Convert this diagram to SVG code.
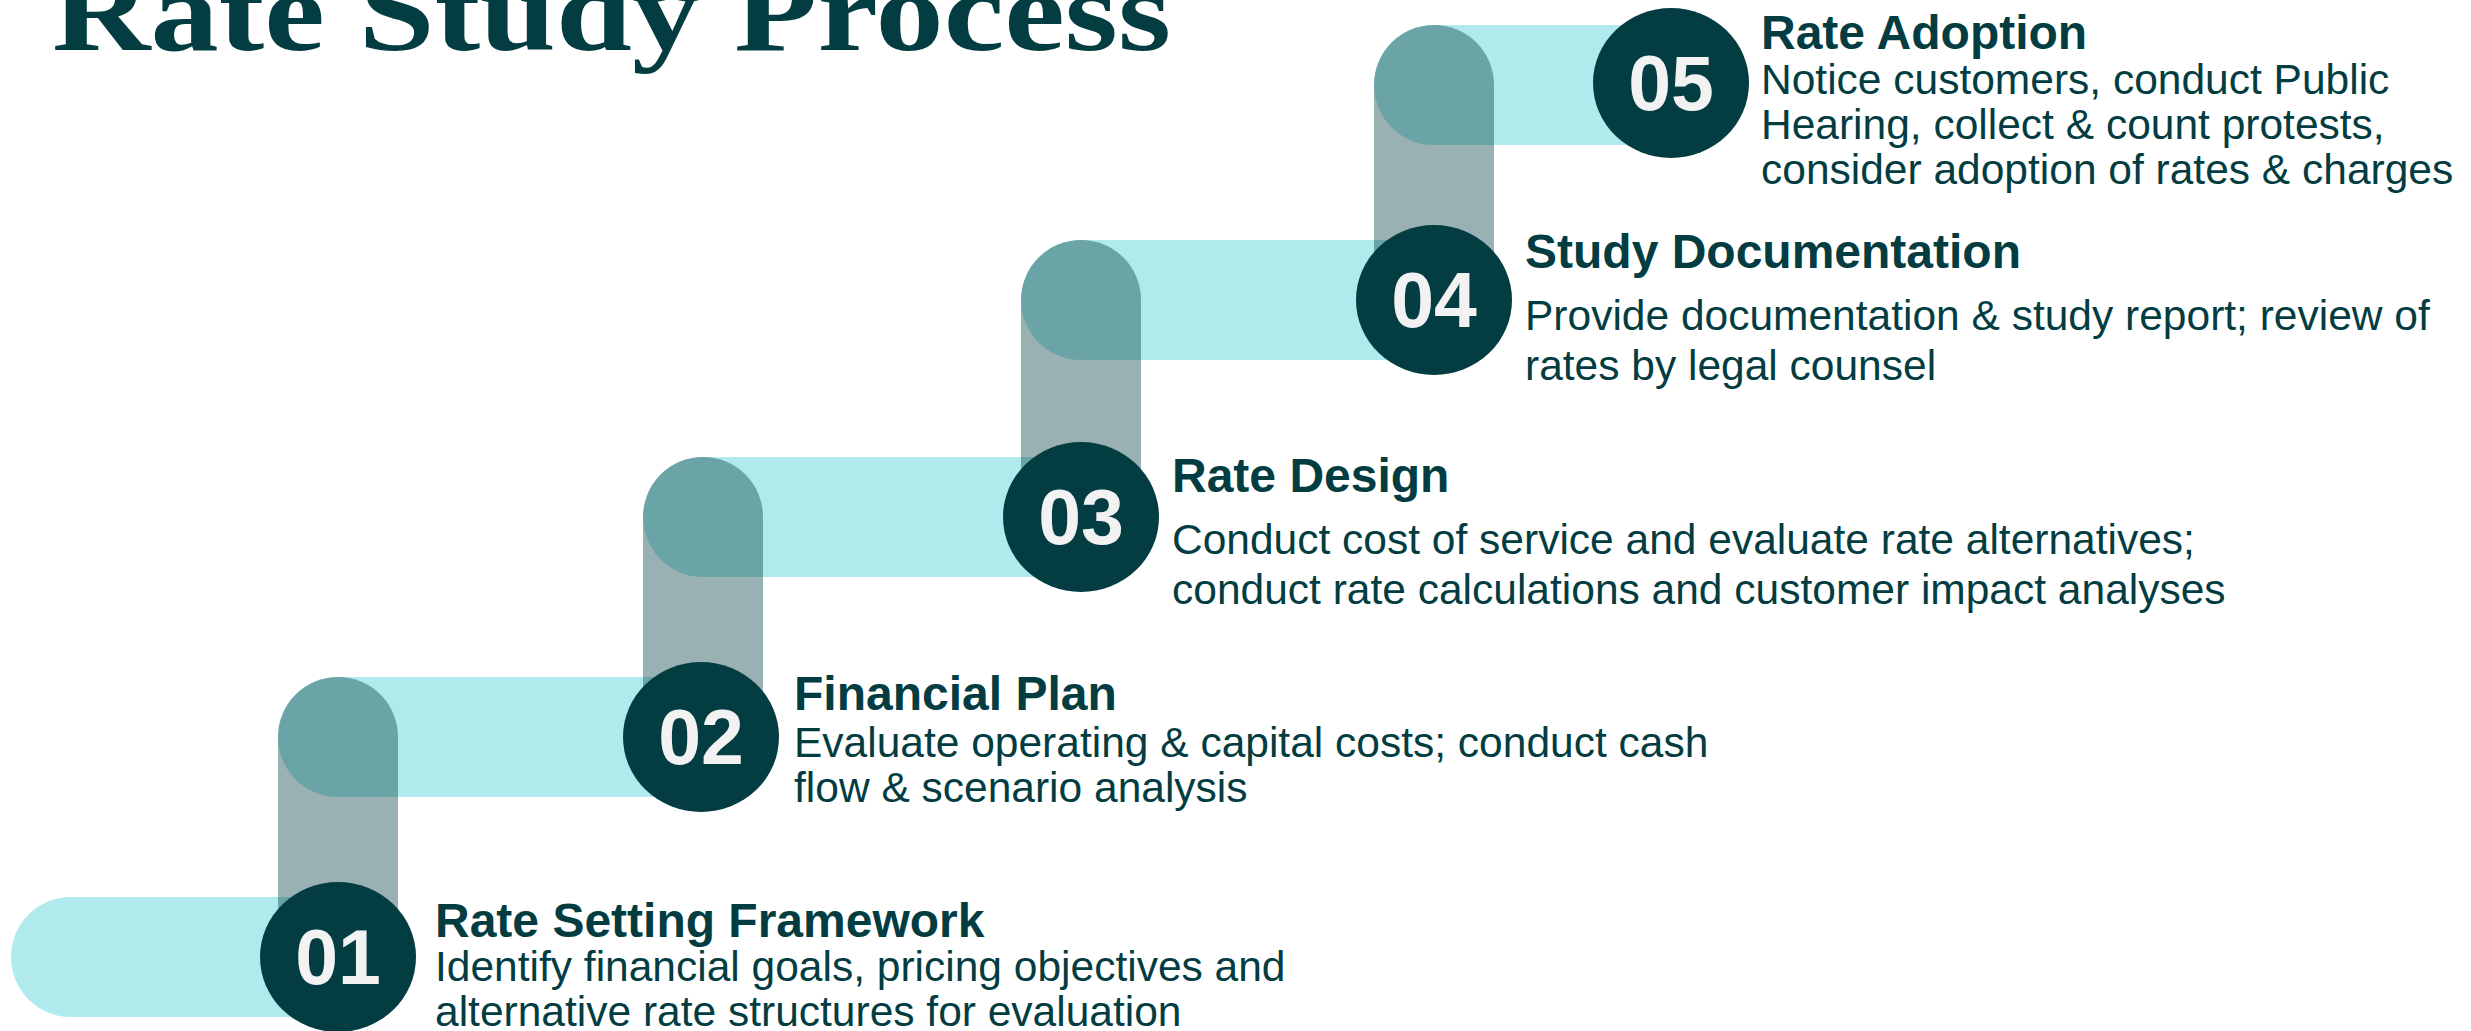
<svg xmlns="http://www.w3.org/2000/svg" width="2471" height="1031" viewBox="0 0 2471 1031">
<style>
.bar{fill:#b0eaec}
.link{fill:#033d42;fill-opacity:0.4}
.dot{fill:#033d42}
.num{font-family:"Liberation Sans",Arial,sans-serif;font-weight:bold;font-size:77px;fill:#f2f2f2;text-anchor:middle}
.head{font-family:"Liberation Sans",Arial,sans-serif;font-weight:bold;font-size:48px;fill:#033d42}
.body{font-family:"Liberation Sans",Arial,sans-serif;font-size:42.5px;fill:#033d42}
.title{font-family:"Liberation Serif","Times New Roman",serif;font-weight:bold;font-size:114px;fill:#033d42}
</style>
<rect width="2471" height="1031" fill="#ffffff"/>
<text class="title" x="52" y="50" textLength="1119" lengthAdjust="spacingAndGlyphs">Rate Study Process</text>
<g id="connectors">
  <path class="bar" d="M71,897 H338 V1017 H71 A60,60 0 0 1 71,897 Z"/>
  <path class="bar" d="M338,677 H701 V797 H338 A60,60 0 0 1 338,677 Z"/>
  <path class="bar" d="M703,457 H1081 V577 H703 A60,60 0 0 1 703,457 Z"/>
  <path class="bar" d="M1081,240 H1434 V360 H1081 A60,60 0 0 1 1081,240 Z"/>
  <path class="bar" d="M1434,25 H1671 V145 H1434 A60,60 0 0 1 1434,25 Z"/>
  <path class="link" d="M278,957 V737 A60,60 0 0 1 398,737 V957 Z"/>
  <path class="link" d="M643,737 V517 A60,60 0 0 1 763,517 V737 Z"/>
  <path class="link" d="M1021,517 V300 A60,60 0 0 1 1141,300 V517 Z"/>
  <path class="link" d="M1374,300 V85 A60,60 0 0 1 1494,85 V300 Z"/>
</g>
<g id="step01">
  <ellipse class="dot" cx="338" cy="957" rx="78" ry="75"/>
  <text class="num" x="338" y="984">01</text>
  <text class="head" x="435" y="937">Rate Setting Framework</text>
  <text class="body" x="435" y="981">Identify financial goals, pricing objectives and</text>
  <text class="body" x="435" y="1026">alternative rate structures for evaluation</text>
</g>
<g id="step02">
  <ellipse class="dot" cx="701" cy="737" rx="78" ry="75"/>
  <text class="num" x="701" y="764">02</text>
  <text class="head" x="794" y="710">Financial Plan</text>
  <text class="body" x="794" y="757">Evaluate operating &amp; capital costs; conduct cash</text>
  <text class="body" x="794" y="802">flow &amp; scenario analysis</text>
</g>
<g id="step03">
  <ellipse class="dot" cx="1081" cy="517" rx="78" ry="75"/>
  <text class="num" x="1081" y="544">03</text>
  <text class="head" x="1172" y="492">Rate Design</text>
  <text class="body" x="1172" y="554">Conduct cost of service and evaluate rate alternatives;</text>
  <text class="body" x="1172" y="604">conduct rate calculations and customer impact analyses</text>
</g>
<g id="step04">
  <ellipse class="dot" cx="1434" cy="300" rx="78" ry="75"/>
  <text class="num" x="1434" y="327">04</text>
  <text class="head" x="1525" y="268">Study Documentation</text>
  <text class="body" x="1525" y="330">Provide documentation &amp; study report; review of</text>
  <text class="body" x="1525" y="380">rates by legal counsel</text>
</g>
<g id="step05">
  <ellipse class="dot" cx="1671" cy="83" rx="78" ry="75"/>
  <text class="num" x="1671" y="110">05</text>
  <text class="head" x="1761" y="49">Rate Adoption</text>
  <text class="body" x="1761" y="94">Notice customers, conduct Public</text>
  <text class="body" x="1761" y="139">Hearing, collect &amp; count protests,</text>
  <text class="body" x="1761" y="184">consider adoption of rates &amp; charges</text>
</g>
</svg>
